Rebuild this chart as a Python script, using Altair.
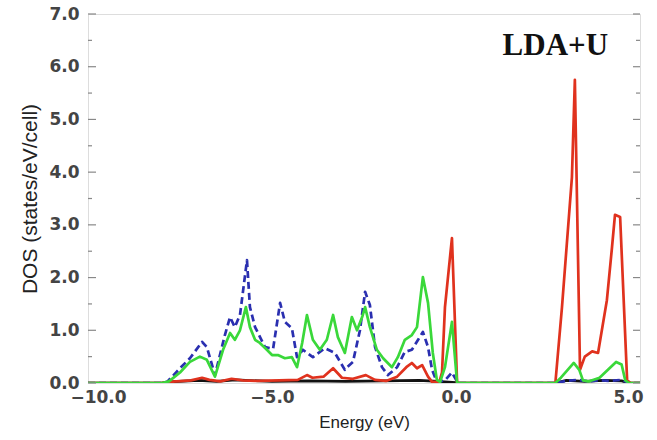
import altair as alt
import pandas as pd

# ---- data ----
blue_E = [-10.0, -7.99, -7.85, -7.50, -7.23, -6.90, -6.77, -6.55, -6.28, -6.14, -6.01, -5.87, -5.68, -5.60,
          -5.46, -5.38, -5.19, -4.97, -4.78, -4.65, -4.46, -4.32, -4.16, -3.89, -3.56, -3.29, -3.02, -2.96,
          -2.80, -2.61, -2.47, -2.34, -2.20, -2.01, -1.85, -1.60, -1.39, -1.20, -1.03, -0.90, -0.76, -0.65,
          -0.52, -0.30, -0.11, 0.05, 2.70, 3.00, 3.30, 3.60, 3.90, 4.20, 4.50, 4.70, 5.0]
blue_D = [0.0, 0.0, 0.02, 0.28, 0.47, 0.78, 0.68, 0.15, 0.91, 1.25, 1.06, 1.29, 2.33, 1.44,
          1.06, 0.95, 0.68, 0.65, 1.52, 1.16, 1.04, 0.49, 0.63, 0.49, 0.66, 0.57, 0.25, 0.30,
          0.40, 1.00, 1.73, 1.48, 0.68, 0.30, 0.15, 0.30, 0.59, 0.63, 0.82, 0.97, 0.68, 0.25,
          0.02, 0.05, 0.20, 0.0, 0.0, 0.04, 0.06, 0.03, 0.05, 0.04, 0.06, 0.0, 0.0]

green_E = [-10.0, -7.99, -7.80, -7.50, -7.23, -6.96, -6.77, -6.55, -6.33, -6.14, -6.01, -5.87, -5.71, -5.60,
           -5.46, -5.33, -5.14, -5.00, -4.84, -4.65, -4.46, -4.32, -4.18, -4.05, -3.89, -3.70, -3.51,
           -3.34, -3.21, -3.02, -2.83, -2.69, -2.55, -2.47, -2.34, -2.15, -1.98, -1.74, -1.58, -1.39,
           -1.20, -1.06, -0.90, -0.76, -0.63, -0.52, -0.43, -0.30, -0.11, 0.03, 2.70, 2.85, 3.10, 3.20,
           3.35, 3.45, 3.60, 3.90, 4.20, 4.35, 4.50, 4.60, 4.70, 5.0]
green_D = [0.0, 0.0, 0.03, 0.20, 0.40, 0.50, 0.44, 0.12, 0.63, 0.95, 0.82, 1.00, 1.44, 1.06,
           0.82, 0.76, 0.63, 0.53, 0.53, 0.47, 0.49, 0.30, 0.76, 1.29, 0.82, 0.63, 0.82,
           1.29, 0.87, 0.57, 1.25, 1.00, 1.25, 1.44, 1.06, 0.63, 0.47, 0.30, 0.49, 0.82,
           0.91, 1.06, 2.01, 1.52, 0.57, 0.06, 0.02, 0.30, 1.16, 0.0, 0.0, 0.10, 0.30, 0.38,
           0.25, 0.05, 0.03, 0.10, 0.30, 0.40, 0.35, 0.05, 0.0, 0.0]

red_E = [-10.0, -8.0, -7.8, -7.2, -6.9, -6.7, -6.4, -6.1, -5.8, -5.4, -4.8, -4.3, -4.05, -3.9, -3.6,
         -3.34, -3.1, -2.8, -2.45, -2.2, -1.9, -1.6, -1.35, -1.2, -1.06, -0.92, -0.76, -0.65, -0.45,
         -0.38, -0.30, -0.11, 0.03, 2.70, 2.88, 3.15, 3.23, 3.37, 3.50, 3.70, 3.86, 4.10, 4.24, 4.32,
         4.46, 4.65, 4.75, 5.0]
red_D = [0.0, 0.0, 0.02, 0.05, 0.10, 0.06, 0.03, 0.08, 0.05, 0.04, 0.05, 0.06, 0.15, 0.10, 0.12,
         0.28, 0.10, 0.08, 0.15, 0.06, 0.04, 0.12, 0.30, 0.38, 0.28, 0.34, 0.12, 0.02, 0.02,
         0.20, 1.44, 2.75, 0.0, 0.0, 1.44, 3.90, 5.75, 0.25, 0.50, 0.60, 0.57, 1.57, 2.58, 3.19,
         3.15, 0.05, 0.0, 0.0]

black_E = [-10.0, -8.0, -7.8, -7.0, -6.5, -6.0, -5.0, -4.0, -3.0, -2.0, -1.0, -0.5, 0.0, 0.1,
           2.7, 3.0, 3.5, 4.0, 4.5, 4.7, 5.0]
black_D = [0.0, 0.0, 0.02, 0.05, 0.03, 0.06, 0.03, 0.04, 0.03, 0.04, 0.05, 0.03, 0.01, 0.0,
           0.0, 0.05, 0.03, 0.05, 0.04, 0.0, 0.0]

y_major = [0.0, 1.0, 2.0, 3.0, 4.0, 5.0, 6.0, 7.0]
y_minor = [0.5, 1.5, 2.5, 3.5, 4.5, 5.5, 6.5]
x_ticks = [-10.0, -5.0, 0.0, 5.0]
label_text = ["LDA+U"]
label_E = [2.7]
label_D = [6.4]

W, H = 552, 369
LFONT = "DejaVu Sans"
TFONT = "Liberation Sans"

xs = alt.Scale(domain=[-10, 5], nice=False, zero=False)
ys = alt.Scale(domain=[0, 7], nice=False)

x_axis = alt.Axis(values=x_ticks, format=".1f", title="Energy (eV)", grid=False, ticks=False,
                  domain=False, labelFont=LFONT, labelFontSize=17, labelFontWeight="bold",
                  labelColor="#444", labelPadding=6, labelFlush=False,
                  labelOffset=alt.ExprRef("datum.value == -10 ? 10 : (datum.value == 5 ? -12 : 0)"),
                  titleFont=TFONT, titleFontSize=17,
                  titleFontWeight="normal", titleColor="#222", titlePadding=9)
y_axis = alt.Axis(values=y_major, format=".1f", title="DOS (states/eV/cell)",
                  grid=False, ticks=False, domain=False, labelFont=LFONT, labelFontSize=17,
                  labelFontWeight="bold", labelColor="#444", labelPadding=9,
                  titleFont=TFONT, titleFontSize=21, titleFontWeight="normal", titleColor="#222",
                  titlePadding=8)


def series(E, D, color, dash=None):
    df = pd.DataFrame({"E": E, "D": D})
    kw = dict(color=color, strokeWidth=2.7, clip=True, strokeJoin="round")
    if dash:
        kw["strokeDash"] = dash
    return alt.Chart(df).mark_line(**kw).encode(
        x=alt.X("E:Q", scale=xs, axis=x_axis),
        y=alt.Y("D:Q", scale=ys, axis=y_axis),
    )


def ytick(values, x0, x1):
    return alt.Chart(pd.DataFrame({"v": values})).mark_rule(color="#888", strokeWidth=1.2).encode(
        y=alt.Y("v:Q", scale=ys), x=alt.value(x0), x2=alt.value(x1)
    )


label = alt.Chart(pd.DataFrame({"t": label_text, "E": label_E, "D": label_D})).mark_text(
    font="Liberation Serif", fontSize=31, fontWeight="bold", color="#111", align="center",
    baseline="middle"
).encode(x=alt.X("E:Q", scale=xs), y=alt.Y("D:Q", scale=ys), text="t:N")

chart = alt.layer(
    series(black_E, black_D, "#111111"),
    series(blue_E, blue_D, "#2a2fb0", dash=[7, 4]),
    series(red_E, red_D, "#e0321e"),
    series(green_E, green_D, "#3ad83a"),
    ytick(y_major, 0, 8),
    ytick(y_minor, 0, 4),
    ytick(y_major, W, W - 7),
    ytick(y_minor, W, W - 4),
    label,
).properties(
    width=W, height=H,
    autosize=alt.AutoSizeParams(type="none"),
    padding={"left": 88, "top": 14, "right": 17, "bottom": 57},
).configure_view(stroke="#8a8a8a", strokeWidth=1.5).configure(background="white")

chart.save("out.html", embed_options={"renderer": "svg", "actions": False})
